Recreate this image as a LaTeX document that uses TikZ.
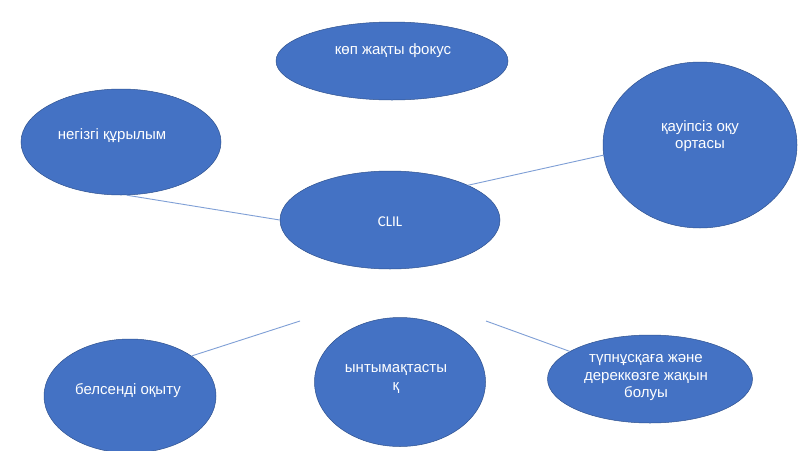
\documentclass[tikz,border=0pt]{standalone}
\usepackage{fontspec}
\setmainfont{Liberation Sans}
\newfontfamily\calibrifont{Carlito}
\usetikzlibrary{shapes.geometric}
\definecolor{bubblefill}{HTML}{4472C4}
\definecolor{bubbleedge}{HTML}{2F528F}
\definecolor{linkcol}{HTML}{7F9FD6}
\begin{document}
\begin{tikzpicture}[x=1pt,y=-1pt,
  bubble/.style={ellipse,draw=bubbleedge,line width=0.5pt,fill=bubblefill,inner sep=0pt,
    text=white,font=\fontsize{15}{17.5}\selectfont,align=center},
  btext/.style={text=white,font=\fontsize{15}{17.5}\selectfont,align=center},
  link/.style={draw=linkcol,line width=0.9pt}]
\useasboundingbox (0,0) rectangle (800,450);
\fill[white] (0,0) rectangle (800,450);
\node[bubble,minimum width=232pt,minimum height=78pt] (fok) at (392,61) {};
\node[btext] (fokt) at (393,51) {көп жақты фокус};
\node[bubble,minimum width=200pt,minimum height=106pt] (neg) at (121,142) {};
\node[btext] (negt) at (112,136) {негізгі құрылым};
\node[bubble,minimum width=220pt,minimum height=98pt] (clil) at (390,220) {};
\node[btext,font=\calibrifont\fontsize{15}{17.5}\selectfont] (clilt) at (390,222) {CLIL};
\node[bubble,minimum width=194pt,minimum height=166pt] (qau) at (700,145) {};
\node[btext] (qaut) at (700,136) {қауіпсіз оқу\\ортасы};
\node[bubble,minimum width=172pt,minimum height=114pt] (bel) at (130,396) {};
\node[btext] (belt) at (128,391) {белсенді оқыту};
\node[bubble,minimum width=171pt,minimum height=129pt] (ynt) at (400,382) {};
\node[btext] (yntt) at (396,379) {ынтымақтасты\\қ};
\node[bubble,minimum width=205pt,minimum height=88pt] (tup) at (650,379) {};
\node[btext] (tupt) at (646,378) {түпнұсқаға және\\дереккөзге жақын\\болуы};
\coordinate (f1) at (300,321);
\coordinate (f2) at (486,321);
\draw[link] (neg.-84) -- (clil.180);
\draw[link] (clil.24) -- (qau.186);
\draw[link] (f1) -- (bel.33);
\draw[link] (f2) -- (tup.161);
\end{tikzpicture}
\end{document}
